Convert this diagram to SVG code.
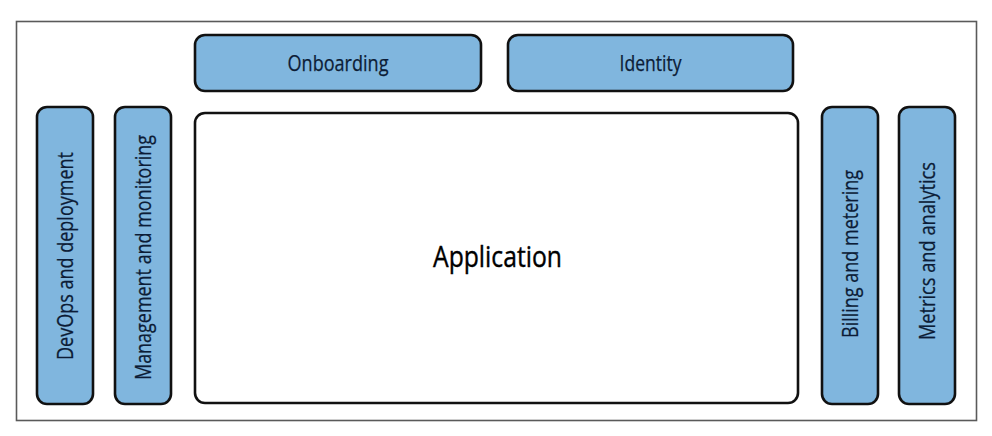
<svg xmlns="http://www.w3.org/2000/svg" width="992" height="436" viewBox="0 0 992 436">
<style>
.box{fill:#80b6de;stroke:#111;stroke-width:2.6}
.app{fill:#fff;stroke:#111;stroke-width:2.6}
.lbl{font-family:"Open Sans","Liberation Sans",Arial,sans-serif;font-size:21px;fill:#0c1c36;stroke:#0c1c36;stroke-width:0.25;text-anchor:middle}
.big{font-family:"Open Sans","Liberation Sans",Arial,sans-serif;font-size:29px;font-weight:500;fill:#000;stroke:#000;stroke-width:0.4;text-anchor:middle}
</style>
<rect width="992" height="436" fill="#fff"/>
<rect x="16.5" y="21.5" width="960" height="399" fill="#fff" stroke="#5a5a5a" stroke-width="1.6"/>
<g id="connectors"></g>
<g id="onboarding">
<rect class="box" x="195" y="35" width="286" height="56" rx="10"/>
<text class="lbl" x="338" y="70.5" textLength="101" lengthAdjust="spacingAndGlyphs">Onboarding</text>
</g>
<g id="identity">
<rect class="box" x="508" y="35" width="285" height="56" rx="10"/>
<text class="lbl" x="650.5" y="70.5" textLength="62" lengthAdjust="spacingAndGlyphs">Identity</text>
</g>
<g id="application">
<rect class="app" x="195" y="113" width="603" height="290" rx="10"/>
<text class="big" x="497.5" y="267" textLength="129" lengthAdjust="spacingAndGlyphs">Application</text>
</g>
<g id="devops">
<rect class="box" x="37" y="107" width="56" height="297" rx="10"/>
<text class="lbl" transform="translate(72.5 256) rotate(-90)" textLength="208" lengthAdjust="spacingAndGlyphs">DevOps and deployment</text>
</g>
<g id="management">
<rect class="box" x="115" y="107" width="56" height="297" rx="10"/>
<text class="lbl" transform="translate(150.5 257.5) rotate(-90)" textLength="245" lengthAdjust="spacingAndGlyphs">Management and monitoring</text>
</g>
<g id="billing">
<rect class="box" x="822" y="107" width="56" height="297" rx="10"/>
<text class="lbl" transform="translate(857.5 254) rotate(-90)" textLength="168" lengthAdjust="spacingAndGlyphs">Billing and metering</text>
</g>
<g id="metrics">
<rect class="box" x="899" y="107" width="56" height="297" rx="10"/>
<text class="lbl" transform="translate(934.5 251) rotate(-90)" textLength="178" lengthAdjust="spacingAndGlyphs">Metrics and analytics</text>
</g>
</svg>
